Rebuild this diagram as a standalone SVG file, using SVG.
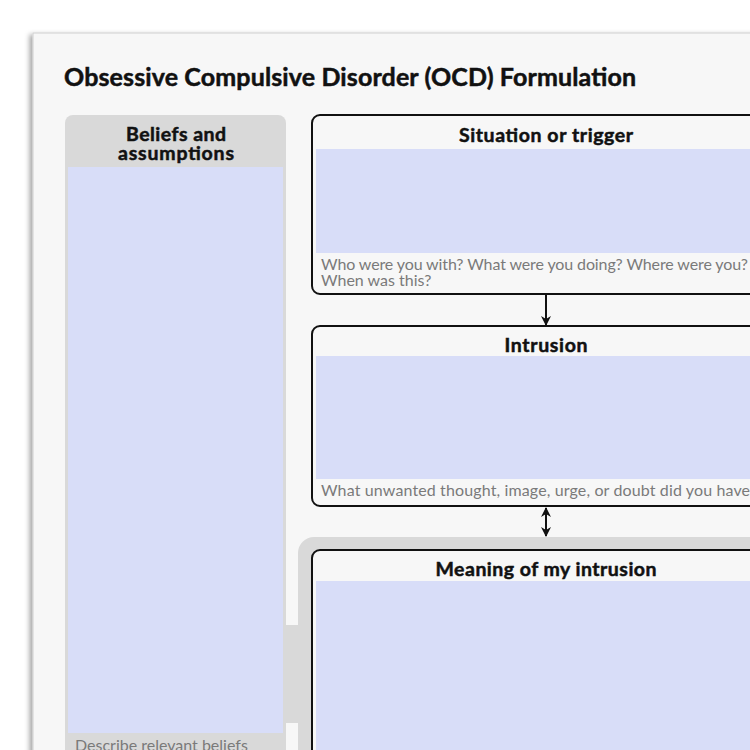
<svg xmlns="http://www.w3.org/2000/svg" width="750" height="750" viewBox="0 0 750 750">
<defs>
<filter id="sh" x="-10%" y="-10%" width="120%" height="120%">
<feDropShadow dx="-3" dy="2" stdDeviation="2.5" flood-color="#000" flood-opacity="0.35"/>
</filter>
<marker id="ah" viewBox="0 0 10 10" refX="9" refY="5" markerWidth="10" markerHeight="10" markerUnits="userSpaceOnUse" orient="auto-start-reverse">
<path d="M0,0 L10,5 L0,10 L3,5 Z" fill="#111"/>
</marker>
<style>
.hd{font-family:Lato,"Open Sans","Liberation Sans",sans-serif;font-weight:700;fill:#111;stroke:#111;stroke-width:0.5;text-anchor:middle}
.hint{font-family:Lato,"Open Sans","Liberation Sans",sans-serif;font-size:16px;fill:#7a7a7a}
.box{fill:#f7f7f7;stroke:#111;stroke-width:2}
.lav{fill:#d8ddf8}
.gray{fill:#d9d9d9}
.conn{stroke:#111;stroke-width:2;fill:none}
</style>
</defs>
<rect width="750" height="750" fill="#fff"/>
<rect x="33" y="33" width="760" height="760" fill="#f7f7f7" stroke="#cfcfcf" stroke-width="1" filter="url(#sh)"/>
<text x="64" y="86" font-family="Lato,'Open Sans','Liberation Sans',sans-serif" font-weight="700" font-size="25" fill="#111" stroke="#111" stroke-width="0.5" textLength="572">Obsessive Compulsive Disorder (OCD) Formulation</text>

<g id="beliefs">
<rect class="gray" x="65" y="115" width="221" height="660" rx="8"/>
<rect class="lav" x="68" y="167" width="215" height="566"/>
<text class="hd" x="176" y="141" font-size="19.5" textLength="100">Beliefs and</text>
<text class="hd" x="176" y="160" font-size="19.5" textLength="116">assumptions</text>
<text class="hint" x="75" y="751">Describe relevant beliefs</text>
</g>

<g id="situation">
<rect class="box" x="312" y="115" width="468" height="179" rx="8"/>
<rect class="lav" x="316" y="149" width="460" height="104"/>
<text class="hd" x="546" y="142" font-size="19.5" textLength="174">Situation or trigger</text>
<text class="hint" x="321" y="270" textLength="427">Who were you with? What were you doing? Where were you?</text>
<text class="hint" x="321" y="286">When was this?</text>
</g>

<g id="intrusion">
<rect class="box" x="312" y="326" width="468" height="180" rx="8"/>
<rect class="lav" x="316" y="356" width="460" height="123"/>
<text class="hd" x="546" y="352" font-size="19.5" textLength="83">Intrusion</text>
<text class="hint" x="321" y="496" textLength="429">What unwanted thought, image, urge, or doubt did you have</text>
</g>

<g id="meaning">
<rect class="gray" x="298" y="537" width="500" height="260" rx="16"/>
<rect class="box" x="312" y="550" width="468" height="240" rx="8"/>
<rect class="lav" x="316" y="581" width="460" height="200"/>
<text class="hd" x="546" y="576" font-size="19.5" textLength="221">Meaning of my intrusion</text>
</g>

<g id="connectors">
<line class="conn" x1="546" y1="295" x2="546" y2="325" marker-end="url(#ah)"/>
<line class="conn" x1="546" y1="508" x2="546" y2="536" marker-start="url(#ah)" marker-end="url(#ah)"/>
<rect class="gray" x="285" y="625" width="14" height="98"/>
</g>
</svg>
